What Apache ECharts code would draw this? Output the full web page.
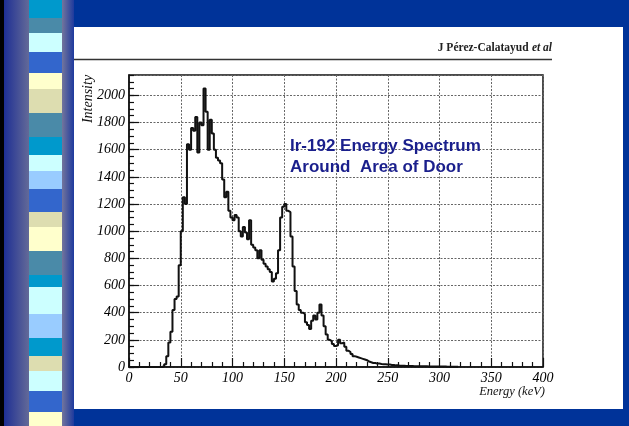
<!DOCTYPE html>
<html>
<head>
<meta charset="utf-8">
<style>
  html, body { margin: 0; padding: 0; background: #003399; }
  #chart { width: 629px; height: 426px; }
</style>
<script src="https://cdn.jsdelivr.net/npm/echarts@6/dist/echarts.min.js"></script>
</head>
<body>
<div id="chart"></div>
<script>
// Ir-192 spectrum: counts per 2 keV bin, bin left edges starting at 0 keV
const binStart = 0;
const binWidth = 2;
const counts = [
  0, 0, 0, 0, 0, 0, 0, 0, 0, 0,            // 0-18
  0, 0, 0, 0, 0, 0, 5, 20, 80, 180,        // 20-38
  260, 420, 500, 520, 750, 1000, 1250, 1200, 1640, 1600, // 40-58
  1760, 1740, 1840, 1580, 1800, 1780, 2050, 1880, 1600, 1820, // 60-78
  1720, 1600, 1540, 1520, 1500, 1380, 1250, 1290, 1150, 1100, // 80-98
  1080, 1120, 1100, 1000, 960, 1030, 990, 940, 1080, 900,     // 100-118
  880, 860, 800, 860, 790, 760, 740, 720, 700, 630,           // 120-138
  650, 690, 860, 1100, 1180, 1200, 1150, 1140, 960, 740,      // 140-158
  560, 460, 420, 400, 390, 330, 310, 280, 340, 380,           // 160-178
  350, 400, 460, 380, 300, 240, 200, 190, 170, 155,           // 180-198
  160, 200, 175, 180, 150, 120, 110, 95, 80, 75,              // 200-218
  70, 65, 60, 55, 50, 40, 35, 30, 30, 25,                     // 220-238
  25, 22, 20, 20, 18, 18, 15, 15, 12, 12,                     // 240-258
  10, 10, 9, 8, 8, 7, 7, 6, 6, 6,                             // 260-278
  5, 5, 5, 5, 4, 4, 4, 4, 3, 3,                               // 280-298
  3, 3, 3, 2, 2, 2, 2, 2, 2, 2                                // 300-318
];
const xTickLabels = ['0', '50', '100', '150', '200', '250', '300', '350', '400'];
const yTickLabels = ['0', '200', '400', '600', '800', '1000', '1200', '1400', '1600', '1800', '2000'];

const spectrum = counts.map((c, i) => [binStart + i * binWidth, c]);

// slide decoration: striped band on the left
const stripeColors = [
  '#0099cc', '#4a8aa8', '#ccffff', '#3366cc', '#ffffcc', '#ddddb0', '#4a8aa8',
  '#0099cc', '#ccffff', '#99ccff', '#3366cc', '#ddddb0', '#ffffcc', '#4a8aa8',
  '#0099cc', '#ccffff', '#99ccff', '#0099cc', '#ddddb0', '#ccffff', '#3366cc', '#ffffcc'
];
const stripeEdges = [0, 18, 33, 52, 73, 89, 113, 137, 155, 171, 189, 212, 227, 251, 275, 287, 314, 338, 356, 371, 391, 412, 426];

const chart = echarts.init(document.getElementById('chart'), null, { renderer: 'canvas' });

const serif = 'Liberation Serif';
const deco = [];
deco.push({ type: 'rect', z: -20, shape: { x: 0, y: 0, width: 629, height: 426 }, style: { fill: '#003399' } });
deco.push({ type: 'rect', z: -19, shape: { x: 74, y: 27, width: 549, height: 382 }, style: { fill: '#ffffff' } });
deco.push({ type: 'rect', z: -19, shape: { x: 4, y: 0, width: 26, height: 426 },
  style: { fill: new echarts.graphic.LinearGradient(0, 0, 1, 0, [
    { offset: 0, color: '#1e2f94' }, { offset: 1, color: '#666c98' }]) } });
deco.push({ type: 'rect', z: -19, shape: { x: 61, y: 0, width: 13, height: 426 },
  style: { fill: new echarts.graphic.LinearGradient(0, 0, 1, 0, [
    { offset: 0, color: '#7a7a9c' }, { offset: 1, color: '#1e3a9e' }]) } });
for (let i = 0; i < stripeColors.length; i++) {
  deco.push({ type: 'rect', z: -18,
    shape: { x: 29, y: stripeEdges[i], width: 33, height: stripeEdges[i + 1] - stripeEdges[i] },
    style: { fill: stripeColors[i] } });
}
deco.push({ type: 'rect', z: -17, shape: { x: 0, y: 0, width: 4, height: 426 }, style: { fill: '#000000' } });

// header rule and author line
deco.push({ type: 'line', z: 5, shape: { x1: 74, y1: 59.5, x2: 552, y2: 59.5 }, style: { stroke: '#333333', lineWidth: 1.5 } });
deco.push({ type: 'text', z: 5, x: 552, y: 48,
  style: { text: '{a|J Pérez-Calatayud} {b|et al}', align: 'right', verticalAlign: 'middle',
    rich: {
      a: { fontFamily: serif, fontSize: 11.5, fontWeight: 'bold', fill: '#222' },
      b: { fontFamily: serif, fontSize: 11.5, fontWeight: 'bold', fontStyle: 'italic', fill: '#222' }
    } } });

// annotation inside the plot
deco.push({ type: 'text', z: 5, x: 290, y: 146,
  style: { text: 'Ir-192 Energy Spectrum', fontFamily: 'Liberation Sans', fontWeight: 'bold', fontSize: 17,
    fill: '#1a1f8c', verticalAlign: 'middle' } });
deco.push({ type: 'text', z: 5, x: 290, y: 167,
  style: { text: 'Around  Area of Door', fontFamily: 'Liberation Sans', fontWeight: 'bold', fontSize: 17,
    fill: '#1a1f8c', verticalAlign: 'middle' } });

// axis titles
deco.push({ type: 'text', z: 5, x: 88, y: 99, rotation: Math.PI / 2,
  style: { text: 'Intensity', fontFamily: serif, fontStyle: 'italic', fontSize: 14, fill: '#111',
    align: 'center', verticalAlign: 'middle' } });
deco.push({ type: 'text', z: 5, x: 545, y: 392,
  style: { text: 'Energy (keV)', fontFamily: serif, fontStyle: 'italic', fontSize: 12.5, fill: '#111',
    align: 'right', verticalAlign: 'middle' } });

const labelStyle = { fontFamily: serif, fontStyle: 'italic', fontSize: 14, color: '#000' };
const dotted = { show: true, lineStyle: { color: '#666', width: 1, type: [2, 1.5] } };

chart.setOption({
  backgroundColor: 'transparent',
  animation: false,
  graphic: { elements: deco },
  grid: { left: 129, right: 86, top: 75, bottom: 59, show: true, borderColor: '#111', borderWidth: 1.5, backgroundColor: 'transparent' },
  xAxis: {
    type: 'value', min: 0, max: 400, interval: 50,
    axisLine: { show: true, lineStyle: { color: '#111', width: 1.5 } },
    axisTick: { show: true, inside: true, length: 9, lineStyle: { color: '#111', width: 1.2 } },
    minorTick: { show: true, splitNumber: 5, length: 5, lineStyle: { color: '#111', width: 1.2 } },
    axisLabel: Object.assign({ margin: 4, formatter: (v) => xTickLabels[Math.round(v / 50)] || '' }, labelStyle),
    splitLine: dotted
  },
  yAxis: [
    {
      type: 'value', min: 0, max: 2150, interval: 50,
      axisLine: { show: true, lineStyle: { color: '#111', width: 1.5 } },
      axisTick: { show: true, inside: true, length: 5, lineStyle: { color: '#111', width: 1.2 } },
      axisLabel: { show: false },
      splitLine: { show: false }
    },
    {
      type: 'value', min: 0, max: 2150, interval: 200, position: 'left', offset: 0,
      axisLine: { show: false },
      axisTick: { show: true, inside: true, length: 10, lineStyle: { color: '#111', width: 1.2 } },
      axisLabel: Object.assign({ margin: 4, showMaxLabel: false,
        formatter: (v) => (v % 200 === 0 ? (yTickLabels[v / 200] || '') : '') }, labelStyle),
      splitLine: dotted
    }
  ],
  series: [{
    type: 'line',
    yAxisIndex: 1,
    step: 'end',
    data: spectrum,
    showSymbol: false,
    lineStyle: { color: '#111', width: 2 },
    z: 3
  }]
});
</script>
</body>
</html>
